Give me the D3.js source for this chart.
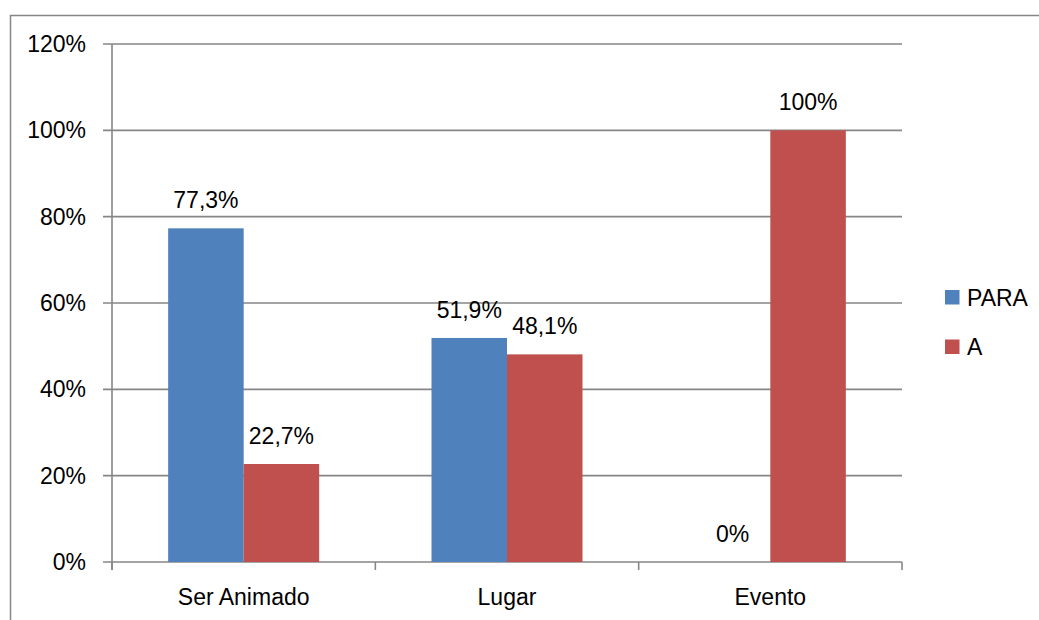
<!DOCTYPE html>
<html>
<head>
<meta charset="utf-8">
<script src="https://cdn.jsdelivr.net/npm/d3@7"></script>
<style>
  html, body { margin: 0; padding: 0; background: #fff; }
  svg { display: block; }
  text { font-family: "Liberation Sans", Arial, sans-serif; fill: #000; }
</style>
</head>
<body>
<svg id="chart" width="1039" height="620"></svg>
<script>
const categories = ["Ser Animado", "Lugar", "Evento"];
const seriesNames = ["PARA", "A"];
const paraValues = [77.3, 51.9, 0];
const aValues = [22.7, 48.1, 100];
const valueLabels = { PARA: ["77,3%", "51,9%", "0%"], A: ["22,7%", "48,1%", "100%"] };
const yTicks = [0, 20, 40, 60, 80, 100, 120];
const colors = { PARA: "#4F81BD", A: "#C0504D" };

const seriesValues = { PARA: paraValues, A: aValues };
const svg = d3.select("#chart");
const fontSize = 23;
const gridColor = "#868686";

// outer chart border (bottom/right outside picture)
svg.append("rect")
  .attr("x", 10.5).attr("y", 15.5)
  .attr("width", 1100).attr("height", 700)
  .attr("fill", "none").attr("stroke", gridColor).attr("stroke-width", 1.5);

const plot = { left: 112, right: 902, top: 44, bottom: 562 };

const y = d3.scaleLinear().domain([0, 120]).range([plot.bottom, plot.top]);
const x0 = d3.scaleBand().domain(categories).range([plot.left, plot.right]).padding(0);
const step = x0.step();
const barW = 75.5;
const gap = (step - 2 * barW) / 2;
const x1 = d3.scaleBand().domain(seriesNames).range([gap, step - gap]).padding(0);

// gridlines
const g = svg.append("g");
g.selectAll("line.grid").data(yTicks).enter().append("line")
  .attr("x1", plot.left - 9).attr("x2", plot.right)
  .attr("y1", d => y(d)).attr("y2", d => y(d))
  .attr("stroke", gridColor).attr("stroke-width", 1.6);

// y axis line
g.append("line")
  .attr("x1", plot.left).attr("x2", plot.left)
  .attr("y1", plot.top).attr("y2", plot.bottom + 8)
  .attr("stroke", gridColor).attr("stroke-width", 1.6);

// y tick labels
g.selectAll("text.ytick").data(yTicks).enter().append("text")
  .attr("x", 86).attr("y", d => y(d))
  .attr("dy", "0.35em")
  .attr("text-anchor", "end")
  .attr("font-size", fontSize)
  .text(d => d + "%");

// x category ticks
const boundaries = categories.map(c => x0(c)).concat([plot.right]);
g.selectAll("line.xtick").data(boundaries).enter().append("line")
  .attr("x1", d => d).attr("x2", d => d)
  .attr("y1", plot.bottom).attr("y2", plot.bottom + 8)
  .attr("stroke", gridColor).attr("stroke-width", 1.6);

// bars
const rows = [];
categories.forEach((c, i) => {
  seriesNames.forEach(s => rows.push({ c, s, v: seriesValues[s][i], label: valueLabels[s][i] }));
});

svg.append("g").selectAll("rect").data(rows).enter().append("rect")
  .attr("x", d => x0(d.c) + x1(d.s))
  .attr("width", x1.bandwidth())
  .attr("y", d => y(d.v))
  .attr("height", d => y(0) - y(d.v))
  .attr("fill", d => colors[d.s]);

// value labels
svg.append("g").selectAll("text").data(rows).enter().append("text")
  .attr("x", d => x0(d.c) + x1(d.s) + x1.bandwidth() / 2)
  .attr("y", d => y(d.v) - 20)
  .attr("text-anchor", "middle")
  .attr("font-size", fontSize)
  .text(d => d.label);

// category labels
svg.append("g").selectAll("text").data(categories).enter().append("text")
  .attr("x", d => x0(d) + step / 2)
  .attr("y", 605)
  .attr("text-anchor", "middle")
  .attr("font-size", fontSize)
  .text(d => d);

// legend
const legend = svg.append("g");
seriesNames.forEach((s, i) => {
  const ly = 290 + i * 49.5;
  legend.append("rect").attr("x", 945).attr("y", ly).attr("width", 14.5).attr("height", 14.5).attr("fill", colors[s]);
  legend.append("text").attr("x", 967).attr("y", ly + 7.5).attr("dy", "0.35em")
    .attr("font-size", fontSize).text(s);
});
</script>
</body>
</html>
